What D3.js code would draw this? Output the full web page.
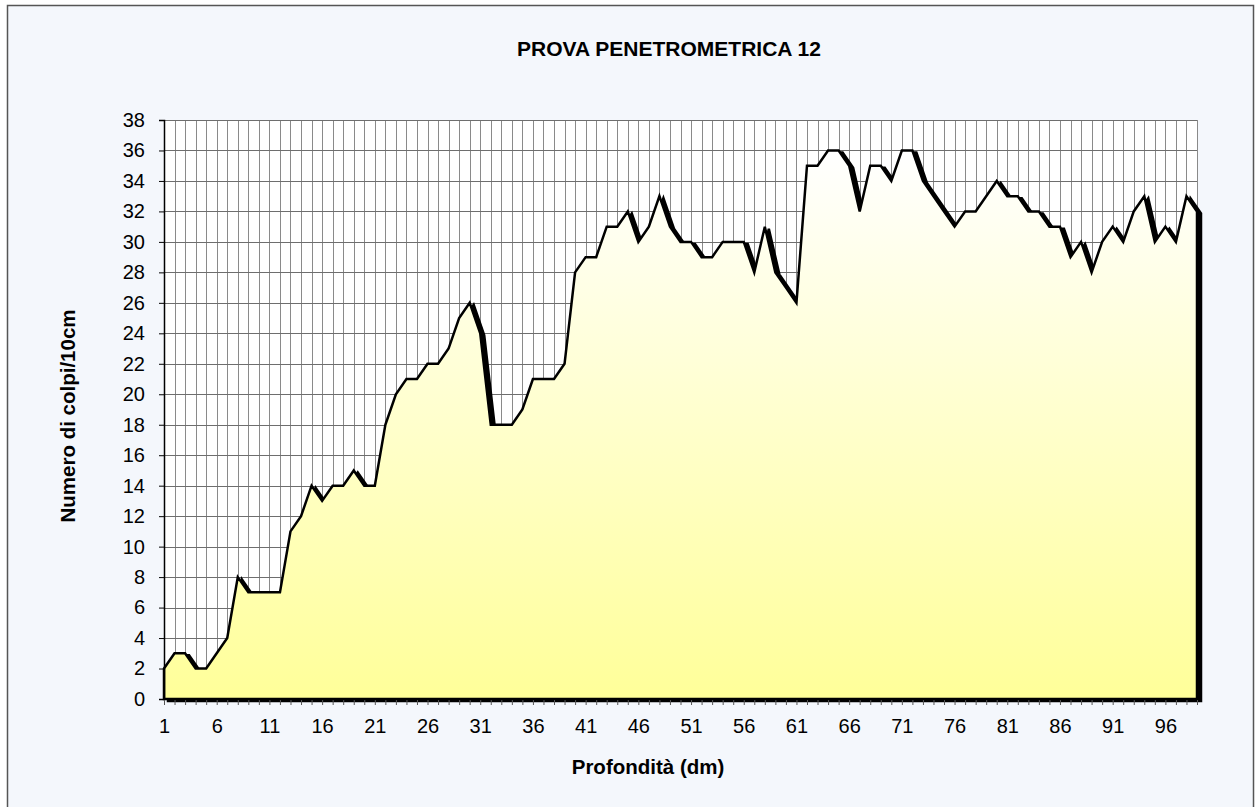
<!DOCTYPE html>
<html>
<head>
<meta charset="utf-8">
<script src="https://cdn.jsdelivr.net/npm/d3@7"></script>
<style>
  html, body { margin: 0; padding: 0; background: #ffffff; }
  svg { display: block; }
  text { font-family: "Liberation Sans", Arial, Helvetica, sans-serif; fill: #000; }
</style>
</head>
<body>
<svg id="chart" width="1255" height="807"></svg>
<script>
// Depth steps (dm) and blow counts per 10 cm
const depths = d3.range(1, 100);
const blows = [
  2, 3, 3, 2, 2, 3, 4, 8, 7, 7,
  7, 7, 11, 12, 14, 13, 14, 14, 15, 14,
  14, 18, 20, 21, 21, 22, 22, 23, 25, 26,
  24, 18, 18, 18, 19, 21, 21, 21, 22, 28,
  29, 29, 31, 31, 32, 30, 31, 33, 31, 30,
  30, 29, 29, 30, 30, 30, 28, 31, 28, 27,
  26, 35, 35, 36, 36, 35, 32, 35, 35, 34,
  36, 36, 34, 33, 32, 31, 32, 32, 33, 34,
  33, 33, 32, 32, 31, 31, 29, 30, 28, 30,
  31, 30, 32, 33, 30, 31, 30, 33, 32
];
const yTicks = d3.range(0, 39, 2);
const xTickLabels = d3.range(1, 100, 5);

const titleText = "PROVA PENETROMETRICA 12";
const xTitle = "Profondità (dm)";
const yTitle = "Numero di colpi/10cm";

const data = depths.map((d, i) => ({ depth: d, value: blows[i] }));

const svg = d3.select("#chart");
const W = 1255, H = 807;
const plot = { left: 164, right: 1197, top: 120, bottom: 699 };

// outer chart frame
svg.append("rect").attr("x", 0).attr("y", 0).attr("width", W).attr("height", H).attr("fill", "#ffffff");
svg.append("rect")
  .attr("x", 7.5).attr("y", 5.5).attr("width", 1246).attr("height", 810)
  .attr("fill", "#f4f7fc").attr("stroke", "#555").attr("stroke-width", 1.5);

const x = d3.scalePoint().domain(depths).range([plot.left, plot.right]);
const y = d3.scaleLinear().domain([0, 38]).range([plot.bottom, plot.top]);

const defs = svg.append("defs");
const grad = defs.append("linearGradient")
  .attr("id", "fillGrad").attr("x1", 0).attr("y1", 0).attr("x2", 0).attr("y2", 1);
grad.append("stop").attr("offset", "0%").attr("stop-color", "#ffffff");
grad.append("stop").attr("offset", "100%").attr("stop-color", "#ffff99");

// plot background
svg.append("rect")
  .attr("x", plot.left).attr("y", plot.top)
  .attr("width", plot.right - plot.left).attr("height", plot.bottom - plot.top)
  .attr("fill", "#ffffff");

// grid: one vertical line per depth step, horizontal every 2 blows
const grid = svg.append("g");
grid.selectAll("line.v").data(depths).join("line")
  .attr("x1", d => Math.round(x(d)) + 0.5).attr("x2", d => Math.round(x(d)) + 0.5)
  .attr("y1", plot.top).attr("y2", plot.bottom)
  .attr("stroke", "#8a8a8a").attr("stroke-width", 1);
grid.selectAll("line.h").data(yTicks).join("line")
  .attr("x1", plot.left).attr("x2", plot.right)
  .attr("y1", d => Math.round(y(d)) + 0.5).attr("y2", d => Math.round(y(d)) + 0.5)
  .attr("stroke", "#6e6e6e").attr("stroke-width", 1);

const area = d3.area()
  .x(d => x(d.depth))
  .y0(plot.bottom)
  .y1(d => y(d.value));

// drop shadow of the filled area
svg.append("path")
  .datum(data)
  .attr("d", area)
  .attr("transform", "translate(4,2)")
  .attr("fill", "#000")
  .attr("stroke", "#000")
  .attr("stroke-width", 2.5)
  .attr("stroke-linejoin", "miter");

// gradient-filled area with black border
svg.append("path")
  .datum(data)
  .attr("d", area)
  .attr("fill", "url(#fillGrad)")
  .attr("stroke", "#000")
  .attr("stroke-width", 2.5)
  .attr("stroke-linejoin", "miter");

// axes
const yAxis = d3.axisLeft(y).tickValues(yTicks).tickSize(5).tickPadding(14).tickFormat(d3.format("d"));
const gy = svg.append("g").attr("transform", `translate(${plot.left},0)`).call(yAxis);
gy.select(".domain").attr("stroke", "#000").attr("stroke-width", 1.5);
gy.selectAll(".tick line").attr("stroke", "#000");
gy.selectAll(".tick text").style("font-size", "20px").attr("fill", "#000");

const xAxis = d3.axisBottom(x).tickSize(5).tickPadding(14)
  .tickFormat(d => xTickLabels.includes(d) ? d : "");
const gx = svg.append("g").attr("transform", `translate(0,${plot.bottom + 1})`).call(xAxis);
gx.select(".domain").remove();
gx.selectAll(".tick line").attr("stroke", "#555");
gx.selectAll(".tick text").style("font-size", "20px").attr("fill", "#000");

// titles
svg.append("text")
  .attr("x", 669).attr("y", 56)
  .attr("text-anchor", "middle")
  .style("font-size", "21px").style("font-weight", "bold")
  .text(titleText);

svg.append("text")
  .attr("x", 648).attr("y", 774)
  .attr("text-anchor", "middle")
  .style("font-size", "20.5px").style("font-weight", "bold")
  .text(xTitle);

svg.append("text")
  .attr("transform", "translate(75,416) rotate(-90)")
  .attr("text-anchor", "middle")
  .style("font-size", "20.5px").style("font-weight", "bold")
  .text(yTitle);
</script>
</body>
</html>
